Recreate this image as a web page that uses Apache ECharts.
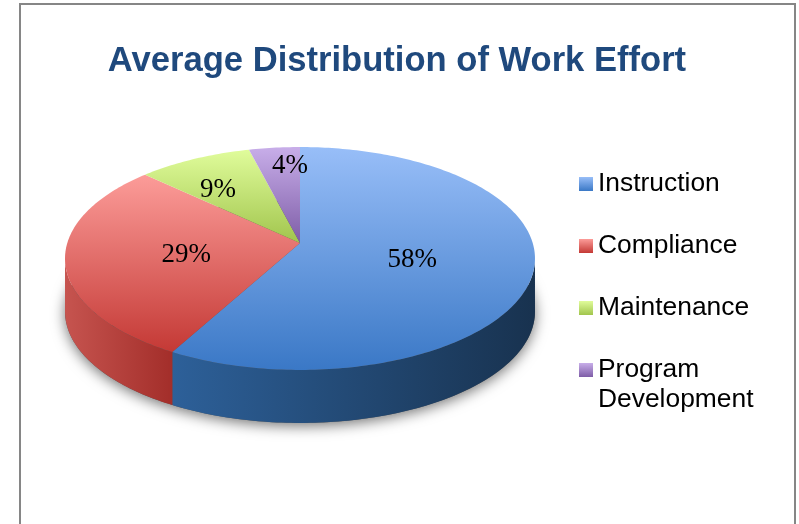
<!DOCTYPE html>
<html>
<head>
<meta charset="utf-8">
<style>
  html, body { margin: 0; padding: 0; background: #fff; }
  #chart { width: 799px; height: 524px; }
</style>
</head>
<body>
<div id="chart"></div>
<script src="https://cdn.jsdelivr.net/npm/echarts@6/dist/echarts.min.js"></script>
<script>
const categories = ['Instruction', 'Compliance', 'Maintenance', 'Program\nDevelopment']
const values = [58, 29, 9, 4]

// colours per slice: top face gradient, then wall gradient
const topColors = [
  ['#98bef8', '#3a78c6'],
  ['#fc9c99', '#c43935'],
  ['#e0fc9b', '#a1c54d'],
  ['#c8aee9', '#7e5da7']
]
const wallColors = [
  ['#2d6099', '#18324f'],
  ['#c6544f', '#a32e2a'],
  ['#8aa83f', '#6f8a30'],
  ['#6a4c90', '#553c75']
]
// where each label sits: radius fraction and angle shift from the slice middle
const labelPlace = [[0.49, 0], [0.49, 0], [0.67, -3.9], [0.816, 3.8]]
const labelDrop = 3

// perspective of the disc
const hubX = 300
const hubY = 243
const radiusX = 232.7
const radiusY = 109.3
const tilt = 0.139
const depth = 53

const total = values.reduce((a, b) => a + b, 0)

const project = (deg, r) => {
  const a = deg * Math.PI / 180
  const u = r * Math.sin(a)
  const v = r * Math.cos(a)
  const w = 1 + tilt * v
  return [hubX + radiusX * u / w, hubY - radiusY * v / w]
}

const arc = (from, to, dy) => {
  const pts = []
  const n = Math.max(1, Math.ceil(Math.abs(to - from)))
  for (let i = 0; i <= n; i++) {
    const p = project(from + (to - from) * i / n, 1)
    pts.push([p[0], p[1] + dy])
  }
  return pts
}

const gradient = (x2, y2, c) => new echarts.graphic.LinearGradient(0, 0, x2, y2, [
  { offset: 0, color: c[0] },
  { offset: 1, color: c[1] }
])

// wall only shows between the two side extremes of the ellipse
const wallFrom = Math.acos(-tilt) * 180 / Math.PI
const wallTo = 360 - wallFrom

const renderSlice = (index) => (params, api) => {
  const value = api.value(0)
  let before = 0
  for (let i = 0; i < index; i++) before += values[i]
  const start = before / total * 360
  const end = (before + value) / total * 360
  const children = []

  if (index === 0) {
    // soft shadow under the whole disc
    children.push({
      type: 'polygon',
      shape: { points: arc(0, 360, depth) },
      style: {
        fill: '#555',
        shadowBlur: 14,
        shadowOffsetY: 3,
        shadowColor: 'rgba(0,0,0,0.55)'
      }
    })
  }

  const a = Math.max(start, wallFrom)
  const b = Math.min(end, wallTo)
  if (b > a) {
    const front = arc(a, b, 0)
    const back = arc(a, b, depth).reverse()
    children.push({
      type: 'polygon',
      shape: { points: front.concat(back) },
      style: { fill: gradient(1, 0, wallColors[index]) }
    })
  }

  children.push({
    type: 'polygon',
    shape: { points: [[hubX, hubY]].concat(arc(start, end, 0)) },
    style: { fill: gradient(0, 1, topColors[index]) }
  })

  const place = labelPlace[index]
  const pos = project((start + end) / 2 + place[1], place[0])
  children.push({
    type: 'text',
    style: {
      text: value + '%',
      x: pos[0],
      y: pos[1] + labelDrop,
      align: 'center',
      verticalAlign: 'middle',
      fill: '#000',
      font: '27px "Liberation Serif"'
    }
  })

  return { type: 'group', children }
}

const legendText = {
  color: '#000',
  fontFamily: 'Liberation Sans',
  fontSize: 26.4,
  lineHeight: 30
}

const legendItem = (name, i) => ({
  name,
  icon: 'rect',
  itemStyle: { color: gradient(0, 1, topColors[i]) }
})

const chart = echarts.init(document.getElementById('chart'))

chart.setOption({
  animation: false,
  title: {
    text: 'Average Distribution of Work Effort',
    left: 392,
    textAlign: 'center',
    top: 39,
    textStyle: {
      color: '#1f497d',
      fontFamily: 'Liberation Sans',
      fontSize: 34.6,
      fontWeight: 'bold'
    }
  },
  legend: [
    {
      orient: 'vertical',
      left: 579,
      top: 169,
      itemWidth: 14,
      itemHeight: 14,
      itemGap: 32,
      padding: 0,
      selectedMode: false,
      textStyle: legendText,
      data: categories.slice(0, 3).map(legendItem)
    },
    {
      // two-line entry: blank first line keeps the swatch beside "Program"
      orient: 'vertical',
      left: 579,
      top: 325,
      itemWidth: 14,
      itemHeight: 14,
      padding: 0,
      selectedMode: false,
      textStyle: legendText,
      formatter: (name) => '\n' + name,
      data: [legendItem(categories[3], 3)]
    }
  ],
  graphic: [{
    type: 'rect',
    shape: { x: 20, y: 4, width: 775, height: 640 },
    style: { fill: 'none', stroke: '#868686', lineWidth: 2 },
    silent: true
  }],
  series: values.map((v, i) => ({
    name: categories[i],
    type: 'custom',
    coordinateSystem: 'none',
    renderItem: renderSlice(i),
    silent: true,
    clip: false,
    data: [[v]]
  }))
})

window.addEventListener('resize', () => {
  chart.resize()
})
</script>
</body>
</html>
